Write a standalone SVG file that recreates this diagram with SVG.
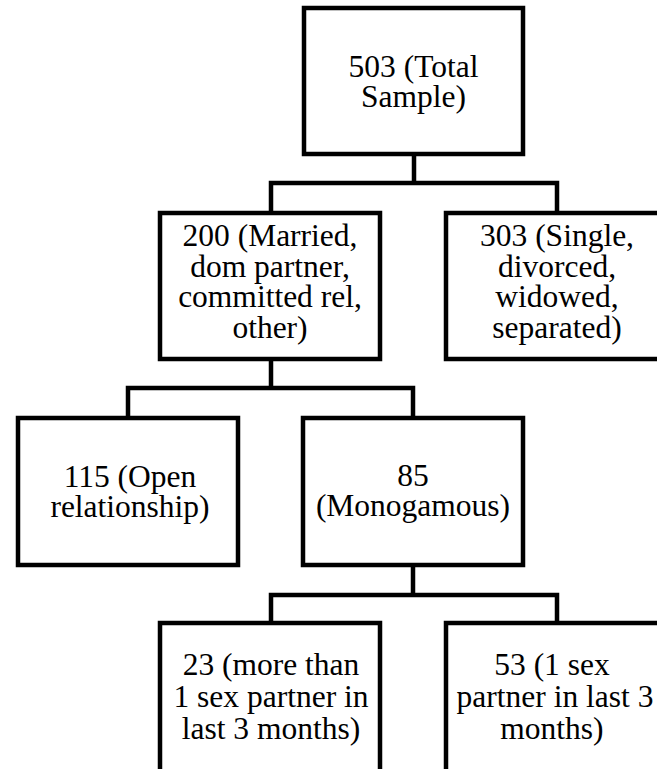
<svg xmlns="http://www.w3.org/2000/svg" width="657" height="769" viewBox="0 0 657 769">
<style>
.box{fill:#fff;stroke:#000;stroke-width:4.5}
.con{fill:none;stroke:#000;stroke-width:4.5}
.t{font-family:'Liberation Serif',serif;font-size:31.5px;fill:#000;text-anchor:middle}
</style>
<rect width="657" height="769" fill="#fff"/>
<g id="connectors">
<path class="con" d="M414 154V183M271 213V183H557V213"/>
<path class="con" d="M271 359V388M128 418V388H413V418"/>
<path class="con" d="M413 565V595M271 623V595H557V623"/>
</g>
<g id="n503" class="t">
<rect class="box" x="304" y="8" width="219" height="146"/>
<text x="413.5" y="77">503 (Total</text>
<text x="413.5" y="107">Sample)</text>
</g>
<g id="n200" class="t">
<rect class="box" x="160" y="213" width="220" height="146"/>
<text x="270" y="246">200 (Married,</text>
<text x="270" y="276.5">dom partner,</text>
<text x="270" y="307">committed rel,</text>
<text x="270" y="337.5">other)</text>
</g>
<g id="n303" class="t">
<rect class="box" x="446" y="213" width="222" height="146"/>
<text x="557" y="246">303 (Single,</text>
<text x="557" y="276.5">divorced,</text>
<text x="557" y="307">widowed,</text>
<text x="557" y="337.5">separated)</text>
</g>
<g id="n115" class="t">
<rect class="box" x="18" y="418" width="220" height="147"/>
<text x="130" y="487">115 (Open</text>
<text x="130" y="517">relationship)</text>
</g>
<g id="n85" class="t">
<rect class="box" x="303" y="418" width="220" height="147"/>
<text x="413" y="486">85</text>
<text x="413" y="516">(Monogamous)</text>
</g>
<g id="n23" class="t">
<rect class="box" x="160" y="623" width="220" height="150"/>
<text x="271" y="675">23 (more than</text>
<text x="271" y="707">1 sex partner in</text>
<text x="271" y="739">last 3 months)</text>
</g>
<g id="n53" class="t">
<rect class="box" x="446" y="623" width="222" height="150"/>
<text x="552" y="675">53 (1 sex</text>
<text x="555" y="707">partner in last 3</text>
<text x="552" y="739">months)</text>
</g>
</svg>
